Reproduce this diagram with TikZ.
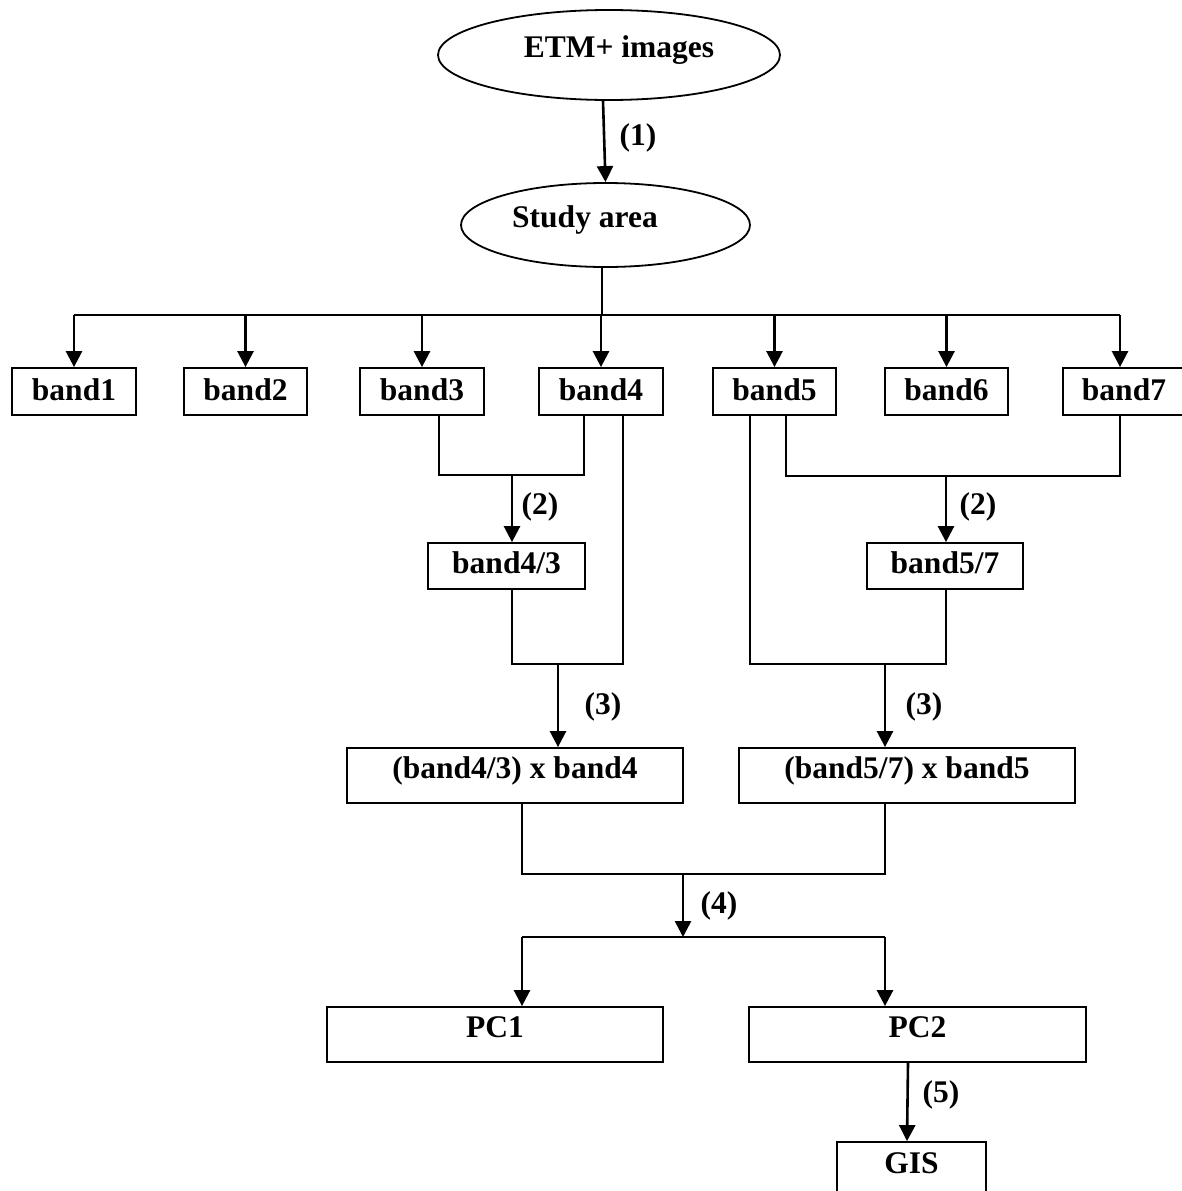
\documentclass[tikz,border=0pt]{standalone}
\usepackage{fontspec}
\setmainfont{Liberation Serif}
\usetikzlibrary{arrows.meta,shapes.geometric}
\tikzset{
  txt/.style={font=\bfseries\fontsize{31.5}{36}\selectfont},
  box/.style={txt,draw,line width=1.8pt,rectangle,inner sep=0pt,text height=22pt},
  oval/.style={txt,draw,line width=1.8pt,ellipse,inner sep=0pt,text height=22pt,text depth=17pt},
  lab/.style={txt,inner sep=0pt},
  conn/.style={line width=1.8pt},
  arr/.style={line width=2.6pt,-{Triangle[length=16pt,width=16pt]}}
}
\begin{document}
\begin{tikzpicture}[x=1pt,y=-1pt]
\useasboundingbox (0,0) rectangle (1182,1191);
% ellipses
\node[oval,minimum width=342,minimum height=90] (etm) at (609,55) {\hspace*{20pt}ETM+ images};
\node[oval,minimum width=289,minimum height=84] (study) at (605.5,225) {Study area\hspace*{41pt}};
% band boxes
\foreach \n/\c/\w in {1/74/124,2/245.5/123,3/422/124,4/601/124,5/774.5/123,6/946.5/123,7/1124/122}{
  \node[box,text depth=4pt,minimum width=\w,minimum height=47] (b\n) at (\c,391.5) {band\n};
}
\node[box,text depth=7pt,minimum width=157,minimum height=46] (b43) at (506.5,566) {band4/3};
\node[box,text depth=7pt,minimum width=156,minimum height=46] (b57) at (945,566) {band5/7};
\node[box,text depth=16pt,minimum width=336,minimum height=55] (p4) at (515,775.5) {(band4/3) x band4};
\node[box,text depth=16pt,minimum width=336,minimum height=55] (p5) at (907,775.5) {(band5/7) x band5};
\node[box,text depth=16pt,minimum width=336,minimum height=55] (pc1) at (495,1034.5) {PC1};
\node[box,text depth=16pt,minimum width=337,minimum height=55] (pc2) at (917.5,1034.5) {PC2};
\node[box,text depth=14pt,minimum width=149,minimum height=55] (gis) at (911.5,1169.5) {GIS};
% labels
\node[lab] (l1) at (638,138) {(1)};
\node[lab] (l2a) at (540,507) {(2)};
\node[lab] (l2b) at (978,507) {(2)};
\node[lab] (l3a) at (603,707) {(3)};
\node[lab] (l3b) at (924,707) {(3)};
\node[lab] (l4) at (719,906) {(4)};
\node[lab] (l5) at (941,1095) {(5)};
% coordinates
\coordinate (hub) at (602,315);
\coordinate (j1) at (512,474);
\coordinate (j2) at (558,663);
\coordinate (j3) at (946,475);
\coordinate (j4) at (885,663);
\coordinate (j5) at (683,873);
\coordinate (j6) at (683,937);
\coordinate (k1) at (522,937);
\coordinate (k2) at (885,937);
% connectors
\draw[arr] ([xshift=-6pt]etm.south) -- (study.north);
\draw[conn] (study.south -| hub) -- (hub);
\draw[conn] (b1.north |- hub) -- ([xshift=-4pt]b7.north |- hub);
\foreach \n in {1,2,3,4,5,6}{\draw[arr] (b\n.north |- hub) -- (b\n.north);}
\draw[arr] ([xshift=-4pt]b7.north |- hub) -- ([xshift=-4pt]b7.north);
\draw[conn] ([xshift=17pt]b3.south) -- ++(0,59) -| ([xshift=-17pt]b4.south);
\draw[arr] (j1) -- (j1 |- b43.north);
\draw[conn] ([xshift=5.5pt]b43.south) -- ++(0,74) -| ([xshift=22pt]b4.south);
\draw[arr] (j2) -- (j2 |- p4.north);
\draw[conn] ([xshift=11.5pt]b5.south) -- ++(0,60) -| ([xshift=-4pt]b7.south);
\draw[arr] (j3) -- (j3 |- b57.north);
\draw[conn] ([xshift=1pt]b57.south) -- ++(0,74) -| ([xshift=-24.5pt]b5.south);
\draw[arr] (j4) -- (j4 |- p5.north);
\draw[conn] ([xshift=7pt]p4.south) -- ++(0,70) -| ([xshift=-22pt]p5.south);
\draw[arr] (j5) -- (j6);
\draw[conn] (k1) -- (k2);
\draw[arr] (k1) -- (k1 |- pc1.north);
\draw[arr] (k2) -- (k2 |- pc2.north);
\draw[arr] ([xshift=-9.5pt]pc2.south) -- ([xshift=-4.5pt]gis.north);
\end{tikzpicture}
\end{document}
